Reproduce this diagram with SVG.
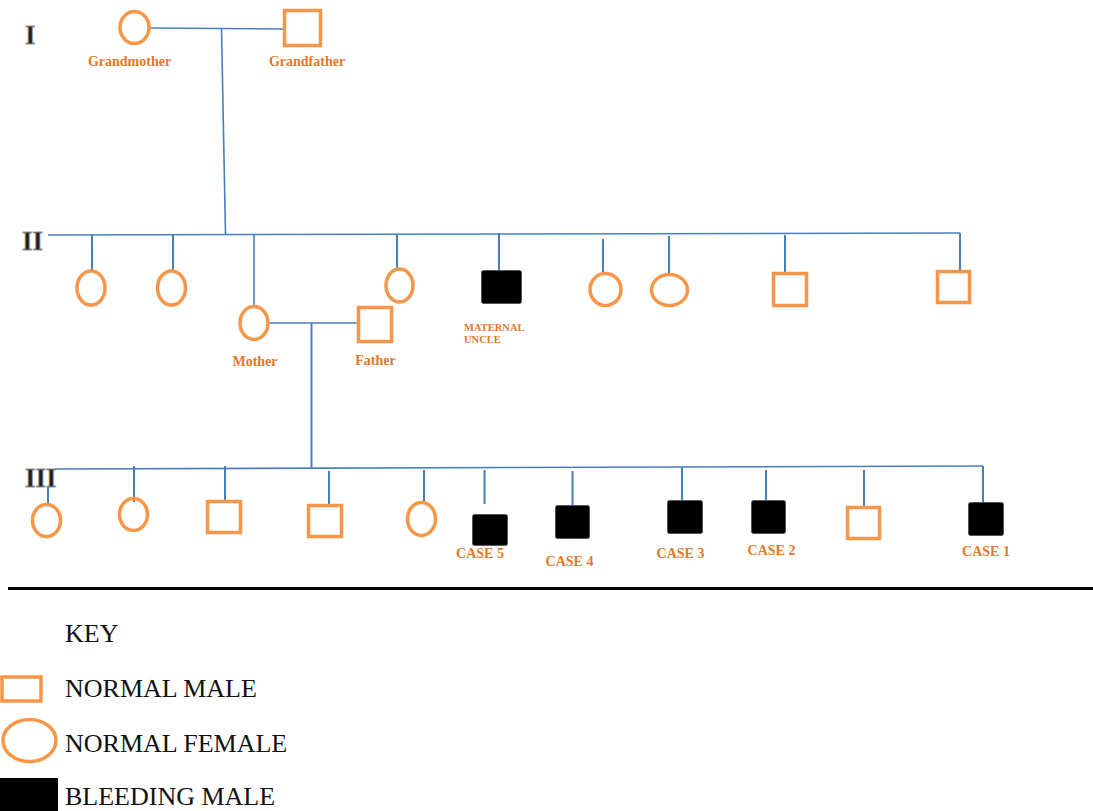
<svg xmlns="http://www.w3.org/2000/svg" width="1093" height="811" viewBox="0 0 1093 811">
<style>
.f{fill:none;stroke:#F79646;stroke-width:3.5}
.m{fill:none;stroke:#F79646;stroke-width:3.5}
.b{fill:#000;stroke:#555;stroke-width:1}
.c{stroke:#4A7EBB;stroke-width:2;fill:none}
.h{stroke:#4A7EBB;stroke-width:1.6;fill:none}
.lbl{font-family:"Liberation Serif",serif;font-weight:bold;font-size:14px;fill:#E2782A;text-anchor:middle}
.sm{font-family:"Liberation Serif",serif;font-weight:bold;font-size:10.5px;fill:#E2782A}
.gen{font-family:"Liberation Serif",serif;font-weight:bold;font-size:27px;fill:#222;stroke:#999;stroke-width:0.8}
.key{font-family:"Liberation Serif",serif;font-size:26px;fill:#111}
</style>
<rect width="1093" height="811" fill="#fff"/>
<g id="gen-labels">
<text class="gen" x="25" y="44">I</text>
<text class="gen" x="22" y="250">II</text>
<text class="gen" x="25" y="487">III</text>
</g>
<g id="connectors">
<line class="h" x1="150" y1="28" x2="283" y2="29"/>
<line class="h" x1="221.5" y1="29" x2="225.5" y2="235"/>
<line class="h" x1="48" y1="235" x2="960" y2="233"/>
<line class="c" x1="92" y1="235" x2="92" y2="271"/>
<line class="c" x1="173" y1="235" x2="173" y2="271"/>
<line class="h" x1="254" y1="235" x2="254" y2="306"/>
<line class="c" x1="397" y1="235" x2="397" y2="268"/>
<line class="c" x1="499" y1="233" x2="499" y2="270"/>
<line class="c" x1="603" y1="239" x2="603" y2="273"/>
<line class="c" x1="669" y1="236" x2="669" y2="274"/>
<line class="c" x1="785" y1="235" x2="785" y2="273"/>
<line class="c" x1="960" y1="233" x2="960" y2="270"/>
<line class="h" x1="269" y1="323" x2="357" y2="323"/>
<line class="c" x1="311.5" y1="323" x2="311.5" y2="469"/>
<line class="h" x1="55" y1="469" x2="983" y2="466"/>
<line class="c" x1="48" y1="487" x2="48" y2="503"/>
<line class="c" x1="134" y1="466" x2="134" y2="502"/>
<line class="c" x1="225" y1="466" x2="225" y2="501"/>
<line class="c" x1="329" y1="471" x2="329" y2="505"/>
<line class="c" x1="424" y1="470" x2="424" y2="503"/>
<line class="c" x1="484.5" y1="470" x2="484.5" y2="504"/>
<line class="c" x1="572.5" y1="471" x2="572.5" y2="506"/>
<line class="c" x1="682" y1="467" x2="682" y2="502"/>
<line class="c" x1="766" y1="470" x2="766" y2="505"/>
<line class="c" x1="864" y1="470" x2="864" y2="506"/>
<line class="c" x1="983" y1="466" x2="983" y2="502"/>
</g>
<g id="grandmother"><ellipse class="f" cx="134.5" cy="27.5" rx="14.5" ry="16"/><text class="lbl" x="129.5" y="66">Grandmother</text></g>
<g id="grandfather"><rect class="m" x="284.5" y="10.5" width="36" height="35"/><text class="lbl" x="307" y="66">Grandfather</text></g>
<g id="aunt1"><ellipse class="f" cx="91" cy="288" rx="14" ry="17"/></g>
<g id="aunt2"><ellipse class="f" cx="171.5" cy="288" rx="14" ry="17"/></g>
<g id="mother"><ellipse class="f" cx="254" cy="323" rx="14" ry="16.5"/><text class="lbl" x="255" y="366">Mother</text></g>
<g id="father"><rect class="m" x="358.5" y="307.5" width="33" height="34"/><text class="lbl" x="375.5" y="365">Father</text></g>
<g id="aunt3"><ellipse class="f" cx="399.5" cy="285.5" rx="13.5" ry="16.5"/></g>
<g id="maternal-uncle"><rect class="b" x="481.5" y="270.5" width="40" height="33" rx="2"/><text class="sm" x="464" y="331">MATERNAL</text><text class="sm" x="464" y="343">UNCLE</text></g>
<g id="aunt4"><ellipse class="f" cx="605.5" cy="289.5" rx="15.5" ry="16"/></g>
<g id="aunt5"><ellipse class="f" cx="669.5" cy="290" rx="18" ry="15.5"/></g>
<g id="uncle2"><rect class="m" x="773.5" y="273.5" width="33" height="32"/></g>
<g id="uncle3"><rect class="m" x="937.5" y="271.5" width="32" height="31"/></g>
<g id="sib1"><ellipse class="f" cx="46.5" cy="520.5" rx="14" ry="16"/></g>
<g id="sib2"><ellipse class="f" cx="133.5" cy="514.5" rx="14" ry="16"/></g>
<g id="sib3"><rect class="m" x="207.5" y="501.5" width="33" height="31"/></g>
<g id="sib4"><rect class="m" x="308.5" y="505.5" width="33" height="31"/></g>
<g id="sib5"><ellipse class="f" cx="421.5" cy="519" rx="14" ry="16.5"/></g>
<g id="case5"><rect class="b" x="472.5" y="514.5" width="35" height="31" rx="2"/><text class="lbl" x="480" y="558">CASE 5</text></g>
<g id="case4"><rect class="b" x="555.5" y="505.5" width="34" height="33" rx="2"/><text class="lbl" x="569.5" y="566">CASE 4</text></g>
<g id="case3"><rect class="b" x="667.5" y="500.5" width="35" height="33" rx="2"/><text class="lbl" x="680.5" y="558">CASE 3</text></g>
<g id="case2"><rect class="b" x="751.5" y="500.5" width="34" height="33" rx="2"/><text class="lbl" x="771.5" y="555">CASE 2</text></g>
<g id="sib6"><rect class="m" x="847.5" y="507.5" width="32" height="31"/></g>
<g id="case1"><rect class="b" x="968.5" y="502.5" width="35" height="33" rx="2"/><text class="lbl" x="986" y="556">CASE 1</text></g>
<line x1="8" y1="588.5" x2="1093" y2="588.5" stroke="#000" stroke-width="3"/>
<g id="key">
<text class="key" x="65" y="642">KEY</text>
<rect x="2" y="677" width="39" height="24" fill="none" stroke="#F79646" stroke-width="3.5"/>
<text class="key" x="65" y="697">NORMAL MALE</text>
<ellipse cx="29.5" cy="740.5" rx="26.5" ry="21" fill="none" stroke="#F79646" stroke-width="3.5"/>
<text class="key" x="65" y="752">NORMAL FEMALE</text>
<rect x="0" y="778" width="58" height="40" fill="#000"/>
<text class="key" x="65" y="805">BLEEDING MALE</text>
</g>
</svg>
